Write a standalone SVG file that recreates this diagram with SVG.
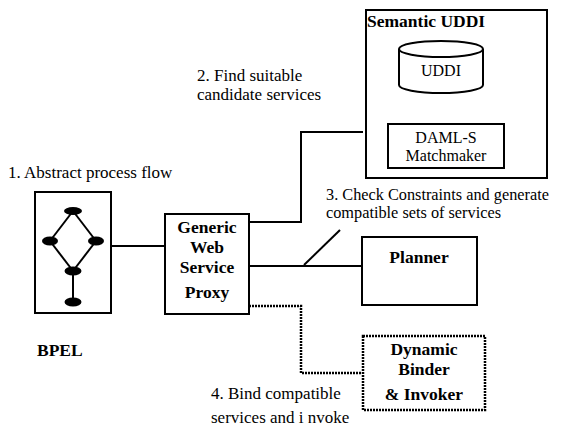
<svg xmlns="http://www.w3.org/2000/svg" width="566" height="427" viewBox="0 0 566 427">
<style>
.box{fill:#fff;stroke:#000;stroke-width:2}
.dbox{fill:#fff;stroke:#000;stroke-width:2.5;stroke-dasharray:2 1}
.ln{fill:none;stroke:#000;stroke-width:2}
.dln{fill:none;stroke:#000;stroke-width:2.5;stroke-dasharray:2 1}
.t{font-family:"Liberation Serif","Times New Roman",serif;font-size:17px;fill:#000}
.b{font-family:"Liberation Serif","Times New Roman",serif;font-size:17.5px;font-weight:bold;fill:#000}
.s{font-family:"Liberation Serif","Times New Roman",serif;font-size:16px;fill:#000}
.c{text-anchor:middle}
</style>
<rect width="566" height="427" fill="#fff"/>
<g id="connectors">
<polyline class="ln" points="111,246 165,246"/>
<polyline class="ln" points="249,222 301,222 301,132 363,132"/>
<polyline class="ln" points="249,266 362,266"/>
<line class="ln" x1="304" y1="265" x2="340" y2="230"/>
<polyline class="dln" points="249,306 301,306 301,373 362,373"/>
<line class="ln" x1="441" y1="93" x2="441" y2="124"/>
</g>
<g id="bpel">
<rect class="box" x="35" y="192" width="76" height="121"/>
<g class="ln">
<line x1="73" y1="211" x2="50" y2="241"/>
<line x1="73" y1="211" x2="96" y2="241"/>
<line x1="50" y1="241" x2="73" y2="271"/>
<line x1="96" y1="241" x2="73" y2="271"/>
<line x1="73" y1="271" x2="73" y2="302"/>
</g>
<ellipse cx="73" cy="211" rx="9" ry="4" fill="#000"/>
<ellipse cx="50" cy="241" rx="8" ry="4.5" fill="#000"/>
<ellipse cx="96" cy="241" rx="8" ry="4.5" fill="#000"/>
<ellipse cx="73" cy="271" rx="8.5" ry="4.5" fill="#000"/>
<ellipse cx="73" cy="302" rx="8.5" ry="4.5" fill="#000"/>
<text class="b" x="37" y="356">BPEL</text>
</g>
<text class="t" x="8" y="178">1. Abstract process flow</text>
<g id="proxy">
<rect class="box" x="165" y="214" width="84" height="100"/>
<text class="b c" x="207" y="233">Generic</text>
<text class="b c" x="207" y="253">Web</text>
<text class="b c" x="207" y="273">Service</text>
<text class="b c" x="207" y="298">Proxy</text>
</g>
<g id="semantic-uddi">
<rect class="box" x="366" y="10" width="181" height="168"/>
<text class="b" x="367" y="27">Semantic UDDI</text>
</g>
<g id="uddi">
<path class="box" d="M399,49 L399,85 A42,8 0 0 0 483,85 L483,49"/>
<ellipse class="box" cx="441" cy="49" rx="42" ry="8"/>
<text class="s c" x="441" y="76">UDDI</text>
</g>
<g id="matchmaker">
<rect class="box" x="388" y="124" width="116" height="44"/>
<text class="s c" x="446" y="143">DAML-S</text>
<text class="s c" x="446" y="161">Matchmaker</text>
</g>
<text class="t" x="197" y="81">2. Find suitable</text>
<text class="t" x="197" y="100">candidate services</text>
<text class="t" x="326" y="200" style="font-size:16.3px">3. Check Constraints and generate</text>
<text class="t" x="326" y="218" style="font-size:16.3px">compatible sets of services</text>
<g id="planner">
<rect class="box" x="362" y="237" width="115" height="68"/>
<text class="b c" x="419" y="263">Planner</text>
</g>
<g id="binder">
<rect class="dbox" x="363" y="336" width="122" height="74"/>
<text class="b c" x="424" y="355">Dynamic</text>
<text class="b c" x="424" y="375">Binder</text>
<text class="b c" x="424" y="400">&amp; Invoker</text>
</g>
<text class="t" x="211" y="399">4. Bind compatible</text>
<text class="t" x="211" y="423">services and i nvoke</text>
</svg>
